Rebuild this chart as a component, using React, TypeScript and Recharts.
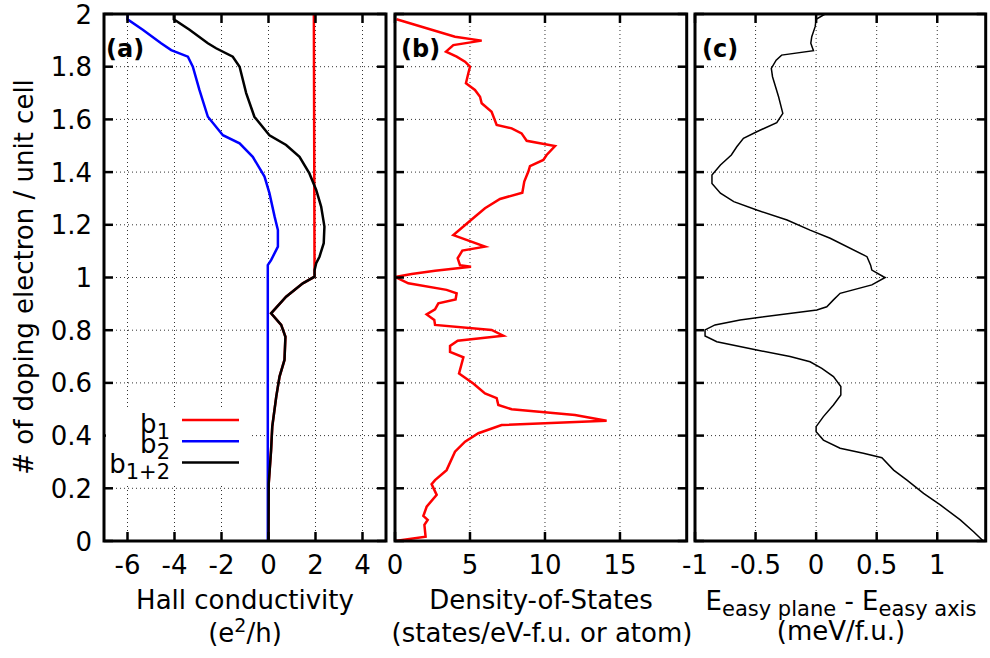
import React from 'react'
import { ScatterChart, Scatter, XAxis, YAxis, CartesianGrid } from 'recharts'

type Pt = { x: number; y: number }

const dopingTicks = [0, 0.2, 0.4, 0.6, 0.8, 1, 1.2, 1.4, 1.6, 1.8, 2]
const hallTicks = [-6, -4, -2, 0, 2, 4]
const dosTicks = [0, 5, 10, 15]
const mcaTicks = [-1, -0.5, 0, 0.5, 1]

// (a) Hall conductivity (e^2/h) vs doping
const hallB1: Pt[] = [
  { x: 1.93, y: 2 }, { x: 1.96, y: 1.003 }, { x: 1.46, y: 0.978 }, { x: 0.75, y: 0.927 },
  { x: 0.11, y: 0.864 }, { x: 0.54, y: 0.82 }, { x: 0.72, y: 0.775 }, { x: 0.68, y: 0.687 },
  { x: 0.47, y: 0.624 }, { x: 0.33, y: 0.548 }, { x: 0.16, y: 0.434 }, { x: 0.11, y: 0.345 },
  { x: 0.01, y: 0.219 }, { x: 0, y: 0 },
]
const hallB2: Pt[] = [
  { x: -5.99, y: 2 }, { x: -6.0, y: 1.98 }, { x: -5.35, y: 1.94 }, { x: -4.57, y: 1.889 },
  { x: -4.14, y: 1.863 }, { x: -3.43, y: 1.838 }, { x: -3.22, y: 1.8 }, { x: -2.94, y: 1.712 },
  { x: -2.58, y: 1.61 }, { x: -1.94, y: 1.54 }, { x: -1.23, y: 1.509 }, { x: -0.67, y: 1.458 },
  { x: -0.17, y: 1.383 }, { x: 0.04, y: 1.32 }, { x: 0.26, y: 1.231 }, { x: 0.4, y: 1.18 },
  { x: 0.4, y: 1.117 }, { x: 0.11, y: 1.066 }, { x: -0.03, y: 1.047 }, { x: -0.03, y: 1.0 },
  { x: -0.03, y: 0 },
]
const hallB12: Pt[] = [
  { x: -4.03, y: 2 }, { x: -4.03, y: 1.98 }, { x: -3.36, y: 1.94 }, { x: -2.58, y: 1.889 },
  { x: -2.23, y: 1.87 }, { x: -1.52, y: 1.838 }, { x: -1.23, y: 1.8 }, { x: -0.95, y: 1.7 },
  { x: -0.6, y: 1.61 }, { x: 0.04, y: 1.54 }, { x: 0.75, y: 1.503 }, { x: 1.32, y: 1.458 },
  { x: 1.74, y: 1.395 }, { x: 2.03, y: 1.332 }, { x: 2.24, y: 1.269 }, { x: 2.38, y: 1.193 },
  { x: 2.35, y: 1.13 }, { x: 2.17, y: 1.079 }, { x: 2.03, y: 1.054 }, { x: 1.96, y: 1.028 },
  { x: 1.96, y: 1.003 }, { x: 1.46, y: 0.978 }, { x: 0.75, y: 0.927 }, { x: 0.11, y: 0.864 },
  { x: 0.54, y: 0.82 }, { x: 0.72, y: 0.775 }, { x: 0.68, y: 0.687 }, { x: 0.47, y: 0.624 },
  { x: 0.33, y: 0.548 }, { x: 0.16, y: 0.434 }, { x: 0.11, y: 0.345 }, { x: 0.01, y: 0.219 },
  { x: 0, y: 0 },
]

// (b) density of states
const dos: Pt[] = [
  { x: 0.1, y: 1.98 }, { x: 4.0, y: 1.914 }, { x: 5.78, y: 1.899 }, { x: 3.89, y: 1.882 },
  { x: 3.4, y: 1.857 }, { x: 4.11, y: 1.838 }, { x: 4.67, y: 1.819 }, { x: 5.0, y: 1.8 },
  { x: 4.89, y: 1.775 }, { x: 4.73, y: 1.737 }, { x: 5.33, y: 1.712 }, { x: 5.67, y: 1.686 },
  { x: 5.78, y: 1.661 }, { x: 6.44, y: 1.629 }, { x: 6.78, y: 1.579 }, { x: 7.78, y: 1.566 },
  { x: 8.44, y: 1.547 }, { x: 8.78, y: 1.519 }, { x: 10.67, y: 1.499 }, { x: 10.11, y: 1.465 },
  { x: 9.89, y: 1.446 }, { x: 9.0, y: 1.423 }, { x: 8.89, y: 1.402 }, { x: 8.62, y: 1.364 },
  { x: 8.49, y: 1.322 }, { x: 7.0, y: 1.298 }, { x: 6.0, y: 1.263 }, { x: 5.07, y: 1.218 },
  { x: 3.89, y: 1.161 }, { x: 6.0, y: 1.117 }, { x: 4.49, y: 1.102 }, { x: 4.18, y: 1.073 },
  { x: 4.33, y: 1.047 }, { x: 5.07, y: 1.041 }, { x: 2.67, y: 1.026 }, { x: 1.11, y: 1.013 },
  { x: 0.0, y: 1.002 }, { x: 0.89, y: 0.978 }, { x: 3.44, y: 0.953 }, { x: 4.11, y: 0.94 },
  { x: 4.04, y: 0.917 }, { x: 2.89, y: 0.902 }, { x: 2.67, y: 0.879 }, { x: 2.11, y: 0.86 },
  { x: 2.62, y: 0.839 }, { x: 2.67, y: 0.82 }, { x: 6.44, y: 0.801 }, { x: 7.22, y: 0.779 },
  { x: 4.18, y: 0.76 }, { x: 3.67, y: 0.74 }, { x: 3.67, y: 0.718 }, { x: 4.56, y: 0.697 },
  { x: 4.27, y: 0.636 }, { x: 5.22, y: 0.598 }, { x: 6.0, y: 0.56 }, { x: 6.78, y: 0.542 },
  { x: 6.89, y: 0.516 }, { x: 7.78, y: 0.5 }, { x: 12.0, y: 0.478 }, { x: 14.11, y: 0.456 },
  { x: 7.11, y: 0.44 }, { x: 5.56, y: 0.409 }, { x: 4.67, y: 0.377 }, { x: 4.0, y: 0.339 },
  { x: 3.44, y: 0.269 }, { x: 2.67, y: 0.231 }, { x: 2.44, y: 0.216 }, { x: 2.78, y: 0.175 },
  { x: 2.11, y: 0.13 }, { x: 1.89, y: 0.095 }, { x: 2.18, y: 0.08 }, { x: 1.96, y: 0.061 },
  { x: 2.04, y: 0.016 }, { x: 0.0, y: 0 },
]

// (c) E(easy plane) - E(easy axis), meV/f.u.
const mca: Pt[] = [
  { x: 0.074, y: 2 }, { x: 0.0, y: 1.98 }, { x: -0.008, y: 1.952 }, { x: -0.036, y: 1.914 },
  { x: -0.044, y: 1.889 }, { x: -0.022, y: 1.861 }, { x: -0.285, y: 1.844 }, { x: -0.33, y: 1.825 },
  { x: -0.37, y: 1.794 }, { x: -0.36, y: 1.762 }, { x: -0.31, y: 1.686 }, { x: -0.275, y: 1.623 },
  { x: -0.325, y: 1.588 }, { x: -0.49, y: 1.553 }, { x: -0.6, y: 1.528 }, { x: -0.655, y: 1.496 },
  { x: -0.7, y: 1.465 }, { x: -0.79, y: 1.427 }, { x: -0.86, y: 1.389 }, { x: -0.86, y: 1.357 },
  { x: -0.79, y: 1.32 }, { x: -0.68, y: 1.288 }, { x: -0.49, y: 1.256 }, { x: -0.24, y: 1.218 },
  { x: -0.05, y: 1.18 }, { x: 0.116, y: 1.149 }, { x: 0.42, y: 1.079 }, { x: 0.45, y: 1.047 },
  { x: 0.46, y: 1.028 }, { x: 0.556, y: 1.003 }, { x: 0.57, y: 1.0 }, { x: 0.46, y: 0.972 },
  { x: 0.198, y: 0.94 }, { x: 0.143, y: 0.915 }, { x: 0.088, y: 0.889 }, { x: 0.006, y: 0.877 },
  { x: -0.628, y: 0.839 }, { x: -0.835, y: 0.82 }, { x: -0.917, y: 0.801 }, { x: -0.917, y: 0.778 },
  { x: -0.82, y: 0.756 }, { x: -0.49, y: 0.725 }, { x: -0.215, y: 0.7 }, { x: -0.05, y: 0.68 },
  { x: 0.047, y: 0.655 }, { x: 0.143, y: 0.624 }, { x: 0.204, y: 0.586 }, { x: 0.204, y: 0.554 },
  { x: 0.143, y: 0.516 }, { x: 0.06, y: 0.472 }, { x: 0.0, y: 0.434 }, { x: 0.0, y: 0.415 },
  { x: 0.06, y: 0.383 }, { x: 0.198, y: 0.352 }, { x: 0.39, y: 0.333 }, { x: 0.543, y: 0.316 },
  { x: 0.64, y: 0.269 }, { x: 0.75, y: 0.231 }, { x: 0.887, y: 0.181 }, { x: 1.025, y: 0.137 },
  { x: 1.19, y: 0.08 }, { x: 1.3, y: 0.035 }, { x: 1.38, y: 0 },
]

const legendItems = [
  { name: 'b', sub: '1', color: '#ff0000' },
  { name: 'b', sub: '2', color: '#0000ff' },
  { name: 'b', sub: '1+2', color: '#000000' },
]

const FONT = '"DejaVu Sans", sans-serif'
const TOP = 14
const BOTTOM = 541
const H = 658
const TICK = 9

const noDot = () => <g />

const fmt = (v: number) => String(Math.round(v * 10) / 10)

function makeXTick() {
  return (props: any) => {
    const { x, payload } = props
    return (
      <g>
        <line x1={x} x2={x} y1={BOTTOM} y2={BOTTOM - TICK} stroke="#000" strokeWidth={2.5} />
        <line x1={x} x2={x} y1={TOP} y2={TOP + TICK} stroke="#000" strokeWidth={2.5} />
        <text x={x} y={574} textAnchor="middle" fontSize={26} fontFamily={FONT} fill="#000">
          {fmt(payload.value)}
        </text>
      </g>
    )
  }
}

function makeYTick(left: number, right: number, labels: boolean) {
  return (props: any) => {
    const { y, payload } = props
    return (
      <g>
        <line x1={left} x2={left + TICK} y1={y} y2={y} stroke="#000" strokeWidth={2.5} />
        <line x1={right} x2={right - TICK} y1={y} y2={y} stroke="#000" strokeWidth={2.5} />
        {labels && (
          <text x={left - 12} y={y + 9.5} textAnchor="end" fontSize={26} fontFamily={FONT} fill="#000">
            {fmt(payload.value)}
          </text>
        )}
      </g>
    )
  }
}

type PanelProps = {
  left: number
  width: number
  yAxisWidth: number
  marginRight: number
  domain: [number, number]
  ticks: number[]
  labels: boolean
  children: React.ReactNode
}

function Panel({ left, width, yAxisWidth, marginRight, domain, ticks, labels, children }: PanelProps) {
  const plotLeft = yAxisWidth
  const plotRight = width - marginRight
  return (
    <div style={{ position: 'absolute', left, top: 0 }}>
      <ScatterChart width={width} height={H} margin={{ top: TOP, right: marginRight, bottom: 0, left: 0 }}>
        <CartesianGrid stroke="#333" strokeDasharray="1 3" strokeWidth={1} />
        <XAxis
          type="number"
          dataKey="x"
          domain={domain}
          ticks={ticks}
          allowDataOverflow
          height={H - BOTTOM}
          axisLine={false}
          tickLine={false}
          tickSize={0}
          interval={0}
          tick={makeXTick()}
        />
        <YAxis
          type="number"
          dataKey="y"
          domain={[0, 2]}
          ticks={dopingTicks}
          allowDataOverflow
          width={yAxisWidth}
          axisLine={false}
          tickLine={false}
          tickSize={0}
          interval={0}
          tick={makeYTick(plotLeft, plotRight, labels)}
        />
        {children}
      </ScatterChart>
    </div>
  )
}

const frames = [
  { x: 104, w: 282 },
  { x: 395, w: 291.7 },
  { x: 695, w: 290.7 },
]

export default function App() {
  return (
    <div style={{ position: 'absolute', left: 0, top: 0, width: 990, height: H, background: '#fff', fontFamily: FONT }}>
      <Panel left={0} width={390} yAxisWidth={104} marginRight={4} domain={[-7, 5]} ticks={hallTicks} labels>
        <Scatter data={hallB1} line={{ stroke: '#ff0000', strokeWidth: 2.5 }} shape={noDot} isAnimationActive={false} />
        <Scatter data={hallB2} line={{ stroke: '#0000ff', strokeWidth: 2.5 }} shape={noDot} isAnimationActive={false} />
        <Scatter data={hallB12} line={{ stroke: '#000000', strokeWidth: 2.5 }} shape={noDot} isAnimationActive={false} />
      </Panel>
      <Panel left={360} width={330} yAxisWidth={35} marginRight={3.3} domain={[0, 19.45]} ticks={dosTicks} labels={false}>
        <Scatter data={dos} line={{ stroke: '#ff0000', strokeWidth: 2.5 }} shape={noDot} isAnimationActive={false} />
      </Panel>
      <Panel left={660} width={330} yAxisWidth={35} marginRight={4.3} domain={[-1, 1.4]} ticks={mcaTicks} labels={false}>
        <Scatter data={mca} line={{ stroke: '#000000', strokeWidth: 1.5 }} shape={noDot} isAnimationActive={false} />
      </Panel>

      <svg width={990} height={H} style={{ position: 'absolute', left: 0, top: 0, pointerEvents: 'none' }}>
        <rect x={106} y={408} width={143} height={75} fill="#fff" />
        {legendItems.map((item, i) => (
          <g key={i}>
            <text x={170} y={433 + i * 20} textAnchor="end" fontSize={26} fontFamily={FONT} fill="#000">
              {item.name}
              <tspan fontSize={21} dy={6}>{item.sub}</tspan>
            </text>
            <line x1={182} x2={239} y1={420 + i * 21.3} y2={420 + i * 21.3} stroke={item.color} strokeWidth={2.5} />
          </g>
        ))}

        {frames.map((f, i) => (
          <rect key={i} x={f.x} y={TOP} width={f.w} height={BOTTOM - TOP} fill="none" stroke="#000" strokeWidth={3} />
        ))}

        <text x={106} y={57} fontSize={24} fontWeight="bold" fontFamily={FONT}>(a)</text>
        <text x={401} y={57} fontSize={24} fontWeight="bold" fontFamily={FONT}>(b)</text>
        <text x={702} y={57} fontSize={24} fontWeight="bold" fontFamily={FONT}>(c)</text>

        <text transform="translate(33,277) rotate(-90)" textAnchor="middle" fontSize={26} fontFamily={FONT}>
          # of doping electron / unit cell
        </text>

        <text x={245} y={609} textAnchor="middle" fontSize={26} fontFamily={FONT}>Hall conductivity</text>
        <text x={245} y={642} textAnchor="middle" fontSize={26} fontFamily={FONT}>
          (e<tspan fontSize={19} dy={-10}>2</tspan><tspan dy={10}>/h)</tspan>
        </text>

        <text x={541} y={609} textAnchor="middle" fontSize={26} fontFamily={FONT}>Density-of-States</text>
        <text x={542} y={642} textAnchor="middle" fontSize={26} fontFamily={FONT}>(states/eV-f.u. or atom)</text>

        <text x={841} y={610} textAnchor="middle" fontSize={26} fontFamily={FONT}>
          E<tspan fontSize={21} dy={6}>easy plane</tspan>
          <tspan dy={-6}> - E</tspan>
          <tspan fontSize={21} dy={6}>easy axis</tspan>
        </text>
        <text x={841} y={640} textAnchor="middle" fontSize={26} fontFamily={FONT}>(meV/f.u.)</text>
      </svg>
    </div>
  )
}
